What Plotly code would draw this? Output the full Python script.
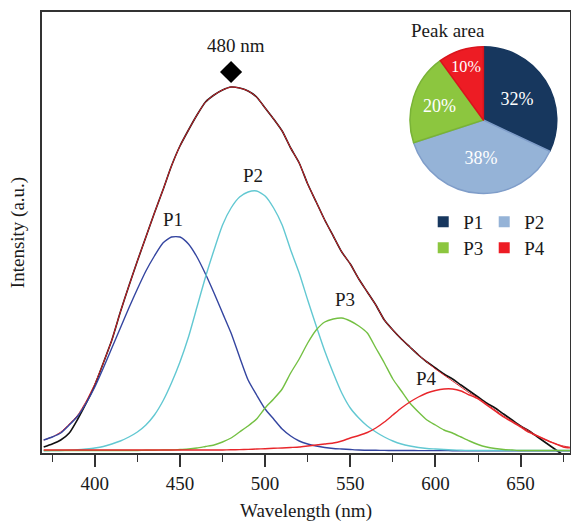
import plotly.graph_objects as go

# ---------------- data ----------------
wavelength = [370, 375, 380, 385, 390, 395, 400, 405, 410, 415, 420, 425, 430, 435, 440, 445,
              450, 455, 460, 465, 470, 475, 480, 485, 490, 495, 500, 505, 510, 515, 520, 525,
              530, 535, 540, 545, 550, 555, 560, 565, 570, 575, 580, 585, 590, 595, 600, 605,
              610, 615, 620, 625, 630, 635, 640, 645, 650, 655, 660, 665, 670, 675, 680]

measured = [4, 7, 11, 18, 32, 48, 66, 88, 111, 139, 165, 190, 214, 238, 261, 285,
            305, 321, 336, 349, 356, 361, 364, 363, 360, 354, 343, 332, 320, 303, 288, 267,
            249, 231, 215, 199, 187, 172, 159, 146, 131, 121, 112, 104, 96, 89, 83, 77,
            72, 66, 60, 54, 48, 43, 37, 31, 25, 20, 14, 8, 2, -4, -10]

fit_sum = [11, 14, 19, 27, 36, 50, 67, 88, 111, 139, 165, 190, 214, 238, 261, 285,
           305, 321, 336, 349, 356, 361, 364, 363, 360, 354, 343, 332, 320, 303, 288, 267,
           249, 231, 215, 199, 187, 172, 159, 146, 131, 121, 112, 104, 96, 89, 82, 76,
           70, 64, 58, 53, 47, 41, 35, 30, 25, 20, 15, 11, 7.5, 5, 3.5]

p1 = [11, 14, 18, 26, 35, 48, 64, 83, 103, 123, 143, 162, 180, 195, 208, 214,
      214, 207, 194, 177, 158, 138, 118, 94, 71, 56, 42, 32, 22, 15, 10, 7,
      5, 3.5, 2.5, 2, 1.5, 1, 0.8, 0.7, 0.6, 0.5, 0.5, 0.5, 0.4, 0.4, 0.4, 0.4,
      0.3, 0.3, 0.3, 0.3, 0.3, 0.3, 0.3, 0.3, 0.3, 0.3, 0.3, 0.3, 0.3, 0.3, 0.3]

p2 = [0.3, 0.4, 0.5, 0.8, 1.2, 2, 3, 4.5, 7, 10, 14, 19, 26, 36, 50, 68,
      89, 114, 144, 174, 201, 226, 243, 254, 259, 260, 255, 243, 226, 201, 178, 151,
      125, 100, 78, 58, 43, 33, 25, 19, 14, 10, 7, 5, 3.5, 2.5, 2, 1.5,
      1, 0.7, 0.5, 0.5, 0.5, 0.5, 0.5, 0.5, 0.5, 0.5, 0.5, 0.5, 0.5, 0.5, 0.5]

p3 = [0.5, 0.5, 0.5, 0.5, 0.5, 0.5, 0.5, 0.5, 0.5, 0.5, 0.5, 0.5, 0.7, 0.8, 1, 1,
      1.5, 2, 3, 4.5, 6, 9, 13, 19, 25, 32, 43, 52, 62, 78, 92, 108,
      121, 129, 132, 133, 130, 125, 118, 103, 88, 72, 60, 48, 39, 31, 26, 21,
      18, 14, 10, 6.5, 4, 2.5, 1.5, 1, 0.5, 0.5, 0.5, 0.5, 0.5, 0.5, 0.5]

p4 = [1, 1, 1, 1, 1, 1, 1, 1, 1, 1, 1, 1, 1, 1, 1, 1,
      1, 1, 1, 1, 1, 1, 1.2, 1.4, 1.6, 2, 2.3, 2.7, 3, 3.5, 4, 5,
      6, 7, 8, 10, 13, 15.5, 18.5, 23, 29, 36, 43, 49, 54, 58, 60.5, 62,
      62, 60, 56, 52, 46, 40, 34, 29, 24, 18.5, 15, 11, 7.5, 4, 3]

peak_names = ["P1", "P2", "P3", "P4"]
peak_area = [32, 38, 20, 10]
peak_lambda = 480
peak_label = "480 nm"
peak_intensity = 379

x_ticks = [400, 450, 500, 550, 600, 650]

# ---------------- styling ----------------
FONT = "Liberation Serif"
TXT = "#1a1a1a"
curve_colors = ["#3445a0", "#62c8d2", "#74c043", "#e8262b"]
pie_colors = ["#17375e", "#95b3d7", "#8cc63f", "#ed1c24"]
pie_lines = ["#17375e", "#7f9dc9", "#79b336", "#d9141c"]

fig = go.Figure()

fig.add_trace(go.Scatter(x=wavelength, y=measured, mode="lines",
                         line=dict(color="#111111", width=1.6, shape="spline", smoothing=0.6),
                         showlegend=False, hoverinfo="skip"))
fig.add_trace(go.Scatter(x=wavelength, y=fit_sum, mode="lines",
                         line=dict(color="#d8232a", width=1.0, shape="spline", smoothing=0.6),
                         showlegend=False, hoverinfo="skip"))
for vals, col in zip([p1, p2, p3, p4], curve_colors):
    fig.add_trace(go.Scatter(x=wavelength, y=vals, mode="lines",
                             line=dict(color=col, width=1.4, shape="spline", smoothing=0.6),
                             showlegend=False, hoverinfo="skip"))

# peak marker
fig.add_trace(go.Scatter(x=[peak_lambda], y=[peak_intensity], mode="markers",
                         marker=dict(symbol="diamond", size=17, color="black"),
                         showlegend=False, hoverinfo="skip"))

# pie inset
fig.add_trace(go.Pie(values=peak_area, labels=peak_names, sort=False, direction="clockwise",
                     rotation=0, textinfo="percent", textposition="inside",
                     insidetextorientation="horizontal",
                     textfont=dict(family=FONT, size=18, color="white"),
                     marker=dict(colors=pie_colors, line=dict(color=pie_lines, width=1.5)),
                     domain=dict(x=[0.697, 0.975], y=[0.585, 0.925]),
                     showlegend=False, hoverinfo="skip"))

# legend entries (two rows of two)
for i, (name, col) in enumerate(zip(peak_names, pie_colors)):
    fig.add_trace(go.Scatter(x=[None], y=[None], mode="markers", name=name,
                             marker=dict(symbol="square", size=11, color=col),
                             legend="legend" if i < 2 else "legend2", showlegend=True))

# curve labels
labels = [("P1", 446, 232), ("P2", 493, 276), ("P3", 547, 152), ("P4", 595, 73),
          (peak_label, 483, 406)]
for txt, lx, ly in labels:
    fig.add_annotation(x=lx, y=ly, text=txt, showarrow=False,
                       font=dict(family=FONT, size=19, color=TXT))

fig.add_annotation(x=0.842, y=0.959, xref="paper", yref="paper", text="Peak area",
                   showarrow=False, yanchor="middle",
                   font=dict(family=FONT, size=19, color=TXT))

legend_common = dict(orientation="h", xanchor="left", yanchor="top",
                     font=dict(family=FONT, size=19, color=TXT),
                     bgcolor="rgba(0,0,0,0)", entrywidth=16, entrywidthmode="pixels",
                     itemsizing="trace")

fig.update_layout(
    width=571, height=523,
    margin=dict(l=42, r=1, t=12, b=70),
    paper_bgcolor="white", plot_bgcolor="white",
    font=dict(family=FONT, size=19, color=TXT),
    legend=dict(x=0.722, y=0.567, **legend_common),
    legend2=dict(x=0.722, y=0.508, **legend_common),
    xaxis=dict(range=[369, 679], tickvals=x_ticks, ticks="outside", ticklen=12, tickwidth=1.5,
               tickcolor="#333", showline=True, linecolor="#333", linewidth=1.5, mirror=True,
               showgrid=False, zeroline=False, automargin=False,
               minor=dict(dtick=25, ticks="outside", ticklen=7, tickwidth=1.2, tickcolor="#333"),
               tickfont=dict(family=FONT, size=19, color=TXT),
               title=dict(text="Wavelength (nm)", standoff=11,
                          font=dict(family=FONT, size=19, color=TXT))),
    yaxis=dict(range=[-2, 439], showticklabels=False, ticks="", showline=True, linecolor="#333",
               linewidth=1.5, mirror=True, showgrid=False, zeroline=False, automargin=False,
               title=dict(text="Intensity (a.u.)", standoff=11,
                          font=dict(family=FONT, size=19, color=TXT))),
)

fig.write_html("out.html", config={"displayModeBar": False},
               post_script="document.body.style.margin='0';")
